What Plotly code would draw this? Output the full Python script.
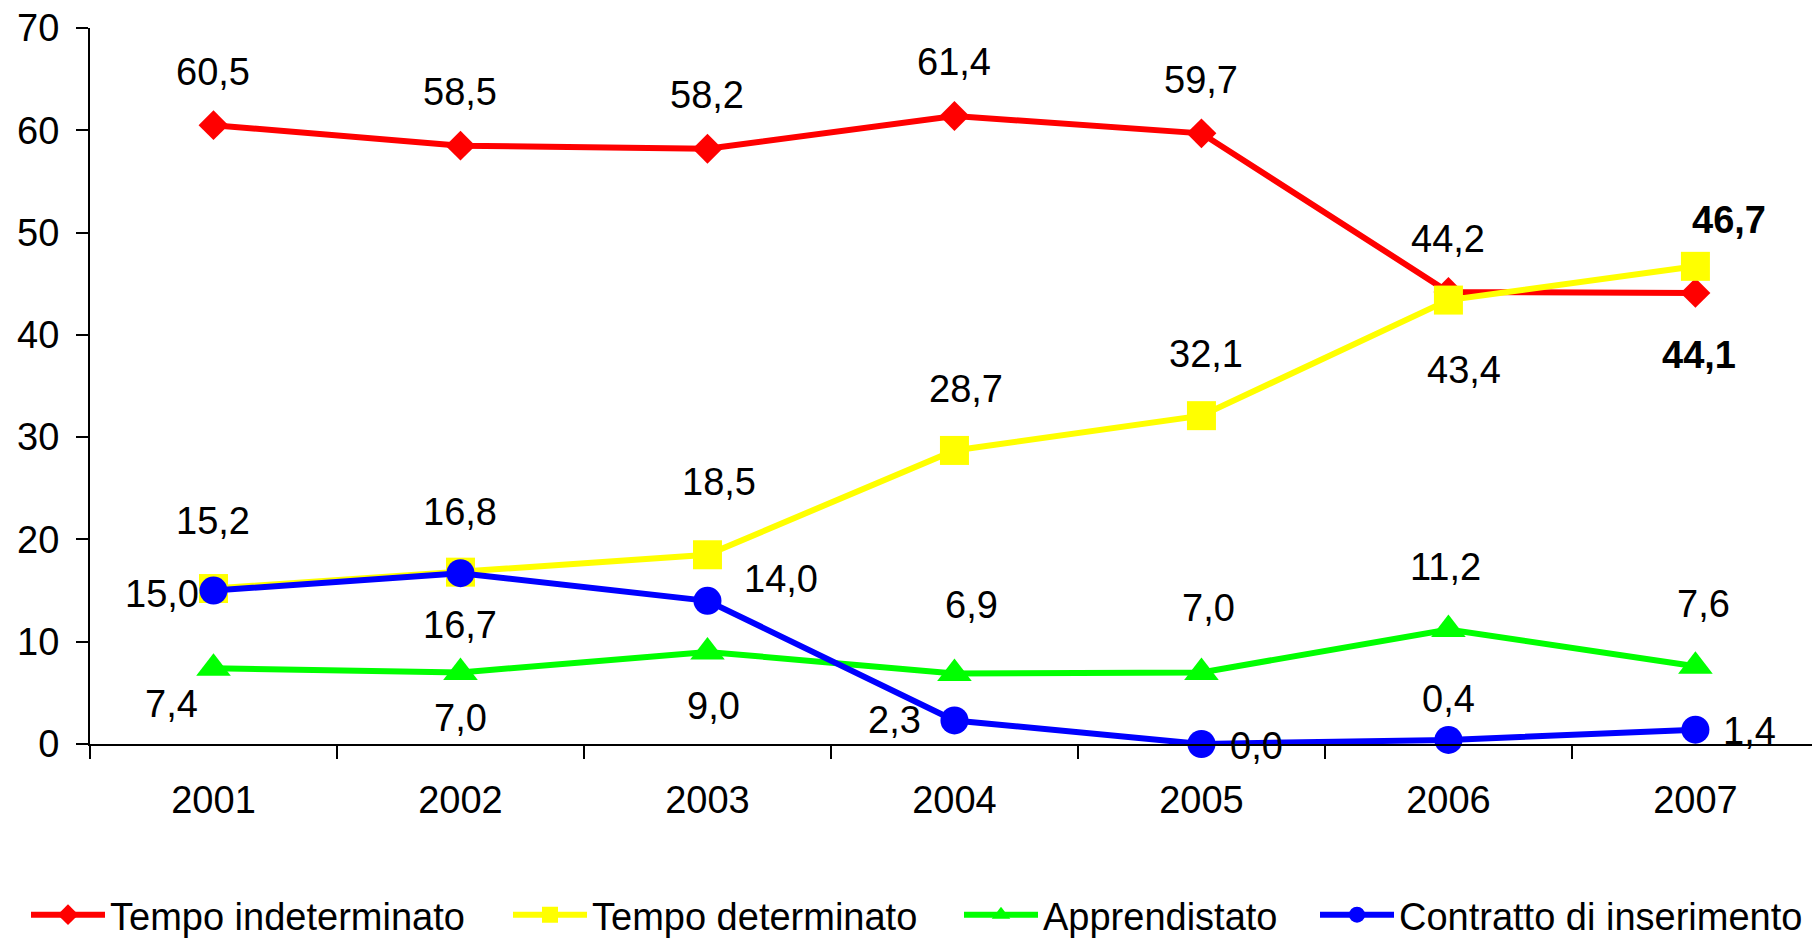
import plotly.graph_objects as go

# ---- data ----
years = ["2001", "2002", "2003", "2004", "2005", "2006", "2007"]
tempo_indeterminato = [60.5, 58.5, 58.2, 61.4, 59.7, 44.2, 44.1]
tempo_determinato = [15.2, 16.8, 18.5, 28.7, 32.1, 43.4, 46.7]
apprendistato = [7.4, 7.0, 9.0, 6.9, 7.0, 11.2, 7.6]
contratto_inserimento = [15.0, 16.7, 14.0, 2.3, 0.0, 0.4, 1.4]
series_names = ["Tempo indeterminato", "Tempo determinato", "Apprendistato",
                "Contratto di inserimento"]

# ---- styles ----
FONT = "Liberation Sans, Arial, sans-serif"
FS = 38
W, H = 1812, 939
colors = ["#FF0000", "#FFFF00", "#00FF00", "#0000FF"]
symbols = ["diamond", "square", "triangle-up", "circle"]
msizes = [23, 29, 30, 28]
legend_ids = ["legend", "legend2", "legend3", "legend4"]
legend_x_px = [26, 508, 959, 1315]

# label offsets (px): (xshift, yshift) per point
label_offsets = [
    [(0, 53), (0, 54), (0, 54), (0, 54), (0, 53), (0, 53), (4, -62)],
    [(0, 68), (0, 60), (12, 73), (12, 61), (5, 62), (16, -70), (34, 46)],
    [(-42, -36), (0, -46), (6, -54), (17, 68), (7, 64), (-3, 62), (8, 62)],
    [(-51, -3), (0, -52), (74, 22), (-60, 0), (55, -2), (0, 41), (54, -1)],
]
bold_points = {(0, 6), (1, 6)}

all_series = [tempo_indeterminato, tempo_determinato, apprendistato,
              contratto_inserimento]

fig = go.Figure()
for i, (name, vals) in enumerate(zip(series_names, all_series)):
    fig.add_trace(go.Scatter(
        x=years, y=vals, name=name, mode="lines+markers",
        line=dict(color=colors[i], width=6),
        marker=dict(symbol=symbols[i], size=msizes[i], color=colors[i]),
        cliponaxis=False, legend=legend_ids[i],
    ))

annotations = []
for i, vals in enumerate(all_series):
    for j, v in enumerate(vals):
        txt = f"{v:.1f}".replace(".", ",")
        if (i, j) in bold_points:
            txt = f"<b>{txt}</b>"
        dx, dy = label_offsets[i][j]
        annotations.append(dict(
            x=j, y=v, xref="x", yref="y", text=txt, showarrow=False,
            xshift=dx, yshift=dy, font=dict(family=FONT, size=FS, color="black"),
            xanchor="center", yanchor="middle",
        ))

legends = {}
for i, lid in enumerate(legend_ids):
    legends[lid] = dict(
        orientation="h", xref="container", yref="container",
        x=legend_x_px[i] / W, xanchor="left", y=(H - 915) / H, yanchor="middle",
        font=dict(family=FONT, size=FS, color="black"),
        itemwidth=74, bgcolor="rgba(0,0,0,0)",
    )

fig.update_layout(
    width=W, height=H,
    margin=dict(l=90, r=0, t=28, b=195),
    paper_bgcolor="white", plot_bgcolor="white",
    font=dict(family=FONT, size=FS, color="black"),
    showlegend=True,
    annotations=annotations,
    xaxis=dict(
        type="category", range=[-0.5, 6.472], tickson="boundaries",
        ticks="outside", ticklen=13, tickwidth=2, tickcolor="black",
        showline=True, linewidth=2, linecolor="black", showgrid=False,
        zeroline=False, ticklabelstandoff=21,
        tickfont=dict(family=FONT, size=FS, color="black"),
    ),
    yaxis=dict(
        range=[0, 70], dtick=10, tick0=0,
        ticks="outside", ticklen=12, tickwidth=2, tickcolor="black",
        showline=True, linewidth=2, linecolor="black", showgrid=False,
        zeroline=False, ticklabelstandoff=9,
        tickfont=dict(family=FONT, size=FS, color="black"),
    ),
    **legends,
)

fig.write_html("out.html", config={"displayModeBar": False},
               post_script="document.body.style.margin='0';")
